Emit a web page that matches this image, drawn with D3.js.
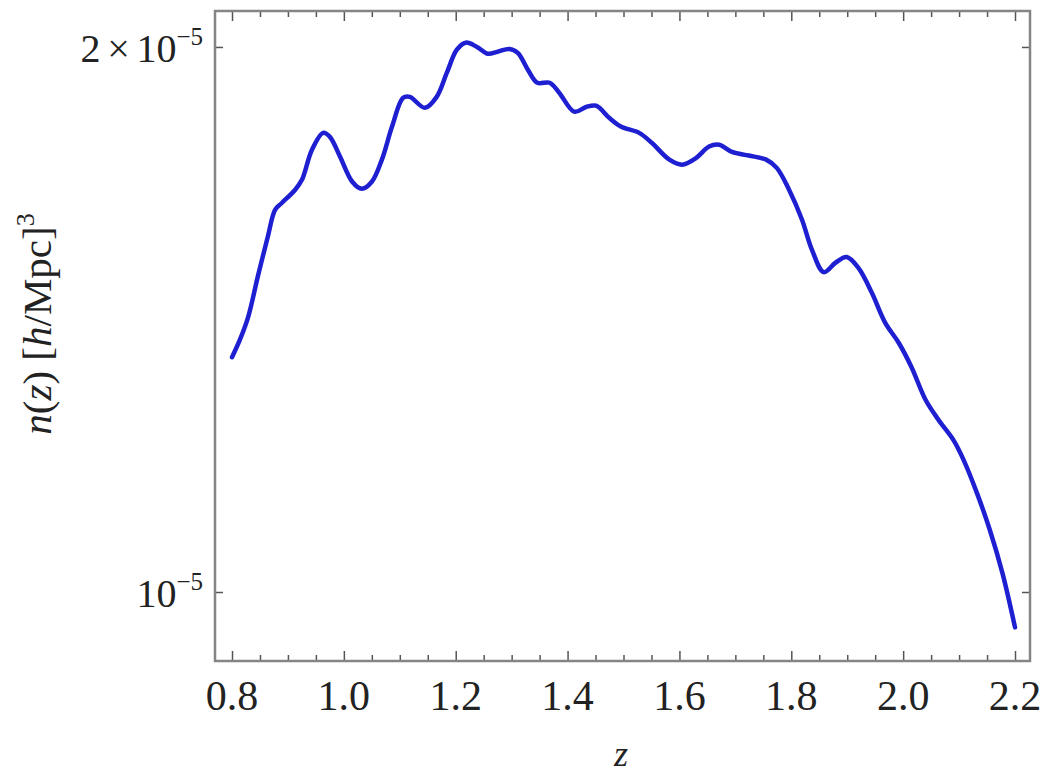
<!DOCTYPE html>
<html>
<head>
<meta charset="utf-8">
<script src="https://cdn.jsdelivr.net/npm/d3@7"></script>
<style>
  body { margin: 0; background: #fff; }
  text { font-family: "Liberation Serif", "Times New Roman", serif; fill: #222; }
</style>
</head>
<body>
<div id="chart"></div>
<script>
var width = 1058,
    height = 777,
    margin = {top: 11, right: 28, bottom: 116, left: 215};

// redshift z and number density n(z), n given in units of 1e-5 (h/Mpc)^3
var zValues = [0.800, 0.814, 0.829, 0.846, 0.864, 0.877, 0.889, 0.913, 0.925, 0.943,
               0.963, 0.975, 0.993, 1.015, 1.032, 1.050, 1.068, 1.086, 1.106, 1.118,
               1.145, 1.166, 1.184, 1.202, 1.218, 1.238, 1.257, 1.275, 1.296, 1.311,
               1.329, 1.346, 1.368, 1.385, 1.412, 1.433, 1.451, 1.475, 1.496, 1.528,
               1.551, 1.582, 1.605, 1.630, 1.653, 1.671, 1.694, 1.724, 1.755, 1.774,
               1.796, 1.819, 1.837, 1.858, 1.879, 1.899, 1.920, 1.944, 1.968, 1.992,
               2.015, 2.040, 2.063, 2.090, 2.108, 2.132, 2.155, 2.178, 2.200];
var nValues = [1.348, 1.378, 1.419, 1.493, 1.571, 1.626, 1.640, 1.668, 1.689, 1.755,
               1.793, 1.784, 1.740, 1.685, 1.670, 1.685, 1.733, 1.807, 1.875, 1.877,
               1.851, 1.877, 1.935, 1.993, 2.011, 2.000, 1.983, 1.988, 1.995, 1.985,
               1.943, 1.911, 1.911, 1.887, 1.842, 1.853, 1.856, 1.827, 1.807, 1.793,
               1.770, 1.733, 1.722, 1.737, 1.762, 1.766, 1.750, 1.742, 1.733, 1.715,
               1.668, 1.606, 1.545, 1.502, 1.520, 1.531, 1.510, 1.463, 1.408, 1.373,
               1.331, 1.277, 1.245, 1.213, 1.183, 1.134, 1.082, 1.023, 0.956];
var nUnit = 1e-5;

var xTicks = [0.8, 1.0, 1.2, 1.4, 1.6, 1.8, 2.0, 2.2];
var xMinorTicks = [0.85, 0.9, 0.95, 1.05, 1.1, 1.15, 1.25, 1.3, 1.35, 1.45, 1.5, 1.55,
                   1.65, 1.7, 1.75, 1.85, 1.9, 1.95, 2.05, 2.1, 2.15];
var yTicks = [1e-5, 2e-5];
var yTickLabels = [{base: "10", exp: "\u22125"},
                   {base: "2\u2006\u00d7\u200610", exp: "\u22125"}];

var data = zValues.map(function(z, i) {
  return {z: z, n: nValues[i] * nUnit};
});

var svg = d3.select("#chart").append("svg")
  .attr("width", width)
  .attr("height", height);

var x = d3.scaleLinear()
  .domain([0.7696, 2.2268])
  .range([margin.left, width - margin.right]);

var y = d3.scaleLog()
  .domain([0.916e-5, 2.0936e-5])
  .range([height - margin.bottom, margin.top]);

var axisColor = "#858585";

// ticks, pointing inward on all four sides
var bottomMinor = d3.axisBottom(x).tickValues(xMinorTicks).tickSize(-6).tickFormat("");
var bottomMajor = d3.axisBottom(x).tickValues(xTicks).tickSize(-10).tickFormat("");
var topMinor = d3.axisTop(x).tickValues(xMinorTicks).tickSize(-6).tickFormat("");
var topMajor = d3.axisTop(x).tickValues(xTicks).tickSize(-10).tickFormat("");
var leftAx = d3.axisLeft(y).tickValues(yTicks).tickSize(-8).tickFormat("");
var rightAx = d3.axisRight(y).tickValues(yTicks).tickSize(-8).tickFormat("");

function drawAxis(ax, tx, ty) {
  var g = svg.append("g")
    .attr("transform", "translate(" + tx + "," + ty + ")")
    .call(ax);
  g.select(".domain").remove();
  g.selectAll(".tick line").attr("stroke", "#555").attr("stroke-width", 1.5);
  return g;
}

drawAxis(bottomMinor, 0, height - margin.bottom);
drawAxis(bottomMajor, 0, height - margin.bottom);
drawAxis(topMinor, 0, margin.top);
drawAxis(topMajor, 0, margin.top);
drawAxis(leftAx, margin.left, 0);
drawAxis(rightAx, width - margin.right, 0);

// frame
svg.append("rect")
  .attr("x", margin.left)
  .attr("y", margin.top)
  .attr("width", width - margin.left - margin.right)
  .attr("height", height - margin.top - margin.bottom)
  .style("fill", "none")
  .style("stroke", axisColor)
  .style("stroke-width", 2.5);

// x tick labels
svg.selectAll(".xlab")
  .data(xTicks)
  .enter()
  .append("text")
  .attr("class", "xlab")
  .attr("x", function(d){ return x(d); })
  .attr("y", 710)
  .style("text-anchor", "middle")
  .style("font-size", "42px")
  .text(function(d){ return d.toFixed(1); });

// y tick labels with superscript exponents
var ylab = svg.selectAll(".ylab")
  .data(yTicks)
  .enter()
  .append("text")
  .attr("class", "ylab")
  .attr("x", 203)
  .attr("y", function(d){ return y(d) + 15; })
  .style("text-anchor", "end")
  .style("font-size", "40px");

ylab.append("tspan")
  .text(function(d, i){ return yTickLabels[i].base; });
ylab.append("tspan")
  .attr("dy", -17)
  .style("font-size", "25px")
  .text(function(d, i){ return yTickLabels[i].exp; });

// axis titles
svg.append("text")
  .attr("x", 621)
  .attr("y", 766)
  .style("text-anchor", "middle")
  .style("font-size", "36px")
  .style("font-style", "italic")
  .text("z");

var ytitle = svg.append("text")
  .attr("transform", "translate(51,324) rotate(-90)")
  .style("text-anchor", "middle")
  .style("font-size", "41px");
ytitle.append("tspan").style("font-style", "italic").text("n");
ytitle.append("tspan").text("(");
ytitle.append("tspan").style("font-style", "italic").text("z");
ytitle.append("tspan").text(") [");
ytitle.append("tspan").style("font-style", "italic").text("h");
ytitle.append("tspan").text("/Mpc]");
ytitle.append("tspan").attr("dy", -17).style("font-size", "26px").text("3");

// the curve
var line = d3.line()
  .curve(d3.curveCatmullRom.alpha(0.5))
  .x(function(d){ return x(d.z); })
  .y(function(d){ return y(d.n); });

svg.append("path")
  .datum(data)
  .attr("d", line)
  .style("fill", "none")
  .style("stroke", "#1f1fd2")
  .style("stroke-width", 4.5)
  .style("stroke-linecap", "round")
  .style("stroke-linejoin", "round");
</script>
</body>
</html>
